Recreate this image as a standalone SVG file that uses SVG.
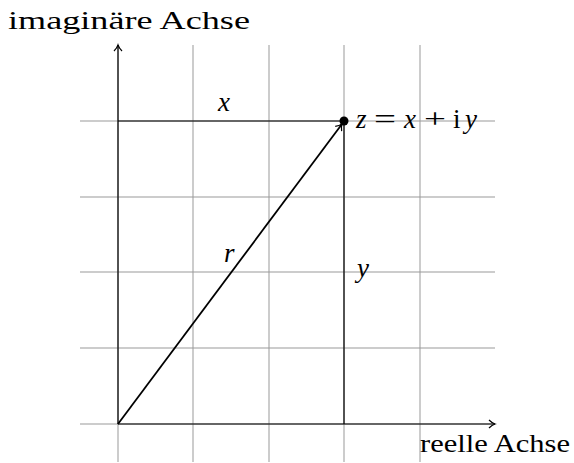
<svg xmlns="http://www.w3.org/2000/svg" width="574" height="463" viewBox="0 0 574 463">
<style>
.grid{stroke:#999;stroke-width:1;fill:none}
.ax{stroke:#000;stroke-width:1.2;fill:none}
.th{stroke:#000;stroke-width:1.8;fill:none}
.lbl{font-family:"Liberation Serif",serif;font-size:26px;fill:#000}
.m{font-family:"Liberation Serif",serif;font-size:27px;font-style:italic;fill:#000}
.r{font-family:"Liberation Serif",serif;font-size:27px;fill:#000}
</style>
<defs>
<marker id="ah" markerWidth="10" markerHeight="10" refX="8" refY="5" orient="auto" markerUnits="userSpaceOnUse">
<path d="M2,1 Q5,4 8,5 Q5,6 2,9" fill="none" stroke="#000" stroke-width="1.2"/>
</marker>
</defs>
<g id="grid">
<path class="grid" d="M80,121H495M80,197H495M80,272H495M80,348H495M80,424H495"/>
<path class="grid" d="M118,45V462M193,45V462M269,45V462M344,45V462M420,45V462"/>
</g>
<g id="connectors">
<line class="ax" x1="118" y1="424" x2="495" y2="424" marker-end="url(#ah)"/>
<line class="ax" x1="118" y1="424" x2="118" y2="45" marker-end="url(#ah)"/>
<line class="ax" x1="118" y1="121" x2="344" y2="121"/>
<line class="ax" x1="344" y1="121" x2="344" y2="424"/>
<line class="th" x1="118" y1="424" x2="342" y2="124" marker-end="url(#ah)"/>
</g>
<g id="z">
<circle cx="344" cy="121" r="4.5" fill="#000"/>
<text class="m" x="356" y="128">z</text>
<text class="r" x="374" y="128" textLength="22" lengthAdjust="spacingAndGlyphs">=</text>
<text class="m" x="404" y="128">x</text>
<text class="r" x="424" y="128" textLength="22" lengthAdjust="spacingAndGlyphs">+</text>
<text class="r" x="453" y="128">i</text>
<text class="m" x="465" y="128">y</text>
</g>
<g id="labels">
<text class="lbl" x="8" y="29" textLength="242" lengthAdjust="spacingAndGlyphs">imaginäre Achse</text>
<text class="lbl" x="420" y="452" textLength="150" lengthAdjust="spacingAndGlyphs">reelle Achse</text>
<text class="m" x="218" y="111">x</text>
<text class="m" x="224" y="262">r</text>
<text class="m" x="357" y="277">y</text>
</g>
</svg>
